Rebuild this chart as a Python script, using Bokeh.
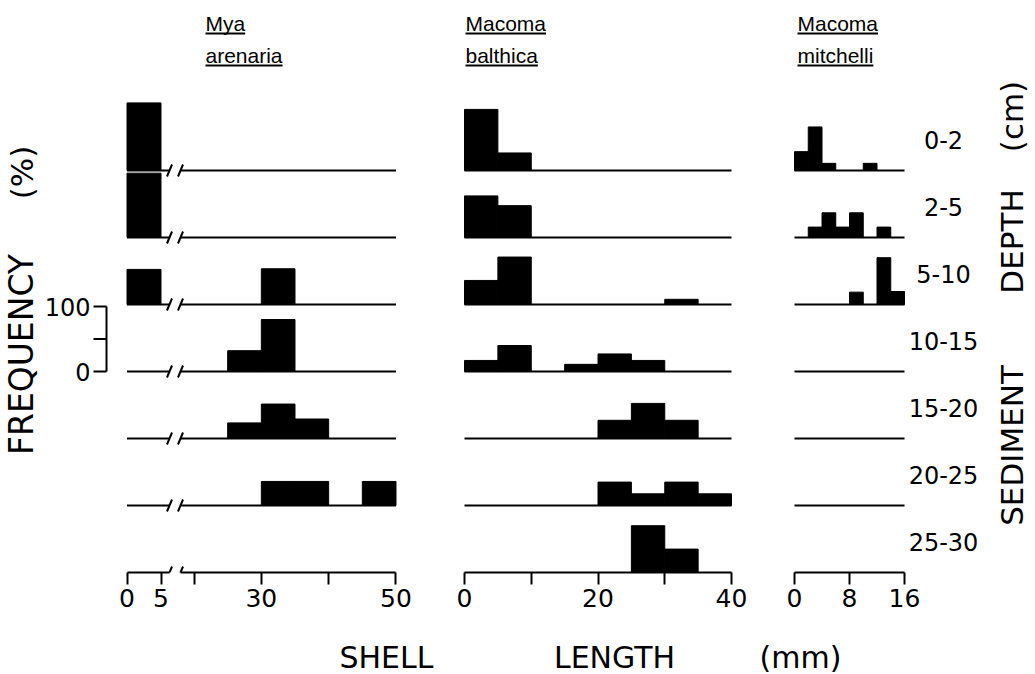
import math
from bokeh.plotting import figure
from bokeh.layouts import row, column
from bokeh.models import Range1d, LinearAxis, FixedTicker, Label, ColumnDataSource
from bokeh.embed import file_html
from bokeh.resources import INLINE

# ---------------- data (frequency, % ; shell-length classes in mm) ----------------
DEPTHS = ["0-2", "2-5", "5-10", "10-15", "15-20", "20-25", "25-30"]

MYA_BINS = [0, 20, 25, 30, 35, 40, 45]          # left edges, 5 mm classes
MYA_WIDTH = 5
MYA_0_2 = [104, 0, 0, 0, 0, 0, 0]
MYA_2_5 = [99, 0, 0, 0, 0, 0, 0]
MYA_5_10 = [54, 0, 0, 55, 0, 0, 0]
MYA_10_15 = [0, 0, 32, 80, 0, 0, 0]
MYA_15_20 = [0, 0, 24, 53, 30, 0, 0]
MYA_20_25 = [0, 0, 0, 37, 37, 0, 37]
MYA_25_30 = [0, 0, 0, 0, 0, 0, 0]
MYA = [MYA_0_2, MYA_2_5, MYA_5_10, MYA_10_15, MYA_15_20, MYA_20_25, MYA_25_30]

BAL_BINS = [0, 5, 10, 15, 20, 25, 30, 35]
BAL_WIDTH = 5
BAL_0_2 = [94, 27, 0, 0, 0, 0, 0, 0]
BAL_2_5 = [64, 49, 0, 0, 0, 0, 0, 0]
BAL_5_10 = [37, 73, 0, 0, 0, 0, 8, 0]
BAL_10_15 = [17, 40, 0, 11, 27, 17, 0, 0]
BAL_15_20 = [0, 0, 0, 0, 28, 54, 28, 0]
BAL_20_25 = [0, 0, 0, 0, 36, 18, 36, 18]
BAL_25_30 = [0, 0, 0, 0, 0, 72, 36, 0]
BAL = [BAL_0_2, BAL_2_5, BAL_5_10, BAL_10_15, BAL_15_20, BAL_20_25, BAL_25_30]

MIT_BINS = [0, 2, 4, 6, 8, 10, 12, 14]
MIT_WIDTH = 2
MIT_0_2 = [29, 67, 11, 0, 0, 11, 0, 0]
MIT_2_5 = [0, 16, 38, 16, 38, 0, 16, 0]
MIT_5_10 = [0, 0, 0, 0, 19, 0, 72, 20]
MIT_10_15 = [0, 0, 0, 0, 0, 0, 0, 0]
MIT_15_20 = [0, 0, 0, 0, 0, 0, 0, 0]
MIT_20_25 = [0, 0, 0, 0, 0, 0, 0, 0]
MIT_25_30 = [0, 0, 0, 0, 0, 0, 0, 0]
MIT = [MIT_0_2, MIT_2_5, MIT_5_10, MIT_10_15, MIT_15_20, MIT_20_25, MIT_25_30]

MYA_TICKS = [0, 5, 20, 30, 40, 50]
MYA_TICK_LABELS = ["0", "5", "", "30", "", "50"]
BAL_TICKS = [0, 10, 20, 30, 40]
BAL_TICK_LABELS = ["0", "", "20", "", "40"]
MIT_TICKS = [0, 8, 16]
MIT_TICK_LABELS = ["0", "8", "16"]
SCALE_TICKS = [0, 50, 100]
SCALE_LABELS = ["0", "", "100"]

TITLES = [("Mya", "arenaria"), ("Macoma", "balthica"), ("Macoma", "mitchelli")]
Y_TITLE = ["FREQUENCY", "(%)"]
DEPTH_TITLE = ["SEDIMENT", "DEPTH", "(cm)"]
X_TITLE = ["SHELL", "LENGTH", "(mm)"]

# ---------------- layout (reference pixel positions) ----------------
TOTAL_W, TOTAL_H = 1035, 674
TOP_H = 620                 # height of the panel row
AXIS_Y = 572                # pixel row of the bottom (25-30 cm) baseline / x axes
PX_PER_PCT = 0.65           # 100 % = 65 px (scale bracket)
ROW_PX = 67
NROW = len(DEPTHS)
FONT = "DejaVu Sans"
TFONT = "Liberation Sans"
TSIZE = 21
# Arial/Liberation Sans advance widths (per 1000 em) for the title letters
AW = dict(M=833, y=500, a=556, r=333, e=556, n=556, i=222, c=500, o=556,
          m=833, b=556, l=222, t=278, h=556)


def ydat(py):
    return (AXIS_Y - py) / PX_PER_PCT


def base(k):
    return (NROW - 1 - k) * ROW_PX / PX_PER_PCT


SPEC_A1 = dict(left=0, right=175, px0=126.5, v0=0, ppu=6.8)
SPEC_A2 = dict(left=175, right=445, px0=193.5, v0=20, ppu=6.733)
SPEC_B = dict(left=445, right=765, px0=464, v0=0, ppu=6.675)
SPEC_C = dict(left=765, right=1035, px0=794, v0=0, ppu=6.875)


def xdat(spec, px):
    return spec["v0"] + (px - spec["px0"]) / spec["ppu"]


def make_panel(spec):
    xr = Range1d(xdat(spec, spec["left"]), xdat(spec, spec["right"]))
    p = figure(width=spec["right"] - spec["left"], height=TOP_H,
               x_range=xr, y_range=Range1d(0, ydat(0)),
               x_axis_type=None, y_axis_type=None,
               output_backend="svg", toolbar_location=None,
               min_border_left=0, min_border_right=0, min_border_top=0,
               min_border_bottom=TOP_H - AXIS_Y, outline_line_color=None,
               background_fill_color="white", border_fill_color="white")
    return p


def add_axis(p, ticks, labels, bounds):
    major = [t for t, l in zip(ticks, labels) if l]
    minor = [t for t, l in zip(ticks, labels) if not l]
    ax = LinearAxis(ticker=FixedTicker(ticks=major, minor_ticks=minor), bounds=bounds,
                    axis_line_width=2, axis_line_color="black",
                    major_tick_line_width=2, major_tick_out=12, major_tick_in=0,
                    minor_tick_line_width=2, minor_tick_out=12, minor_tick_in=0,
                    major_label_text_font=FONT, major_label_text_font_size="25px",
                    major_label_text_color="black", major_label_standoff=4)
    p.add_layout(ax, "below")


def add_label(p, x, y, text, size, font=FONT, align="center", baseline="middle", angle=0.0):
    p.add_layout(Label(x=x, y=y, text=text, text_font=font, text_font_size=f"{size}px",
                       text_align=align, text_baseline=baseline, angle=angle,
                       text_color="black"))


def draw_bars(p, bins, width, rows, keep):
    L, R, B, T = [], [], [], []
    for k, vals in enumerate(rows):
        for b, v in zip(bins, vals):
            if v > 0 and keep(b):
                L.append(b); R.append(b + width)
                B.append(base(k)); T.append(base(k) + v)
    src = ColumnDataSource(dict(left=L, right=R, bottom=B, top=T))
    p.quad(left="left", right="right", bottom="bottom", top="top", source=src,
           fill_color="black", line_color="black", line_width=1)


def draw_baselines(p, x0, x1):
    ys = [base(k) for k in range(NROW - 1)]
    p.segment(x0=[x0] * len(ys), y0=ys, x1=[x1] * len(ys), y1=ys,
              line_color="black", line_width=2)


def draw_breaks(p, spec, xb):
    dx = 2.5 / spec["ppu"]
    dy = 6 / PX_PER_PCT
    ys = [base(k) for k in range(NROW)]
    p.segment(x0=[xb - dx] * NROW, y0=[y - dy for y in ys],
              x1=[xb + dx] * NROW, y1=[y + dy for y in ys],
              line_color="black", line_width=2)


def draw_title(p, spec, px, lines):
    # text placed so that its baseline sits just above the underline
    for txt, pyt, pyu in zip(lines, [23, 55], [33, 65]):
        add_label(p, xdat(spec, px), ydat(pyt), txt, TSIZE, font=TFONT,
                  align="left", baseline="alphabetic")
        w = sum(AW[ch] for ch in txt) / 1000 * TSIZE
        p.segment(x0=[xdat(spec, px)], y0=[ydat(pyu)], x1=[xdat(spec, px + w)], y1=[ydat(pyu)],
                  line_color="black", line_width=2)


# ---------- panel A1 : Mya arenaria 0-5 mm + frequency scale ----------
pA1 = make_panel(SPEC_A1)
lo_end = xdat(SPEC_A1, 169)
draw_baselines(pA1, 0, lo_end)
draw_bars(pA1, MYA_BINS, MYA_WIDTH, MYA, lambda b: b < 10)
draw_breaks(pA1, SPEC_A1, lo_end)
add_axis(pA1, [t for t in MYA_TICKS if t < 10],
         [l for t, l in zip(MYA_TICKS, MYA_TICK_LABELS) if t < 10], (0, lo_end))

# frequency scale bracket
bx = xdat(SPEC_A1, 106)
bx_l = xdat(SPEC_A1, 93)
b3 = base(3)
pA1.segment(x0=[bx], y0=[b3 + SCALE_TICKS[0]], x1=[bx], y1=[b3 + SCALE_TICKS[-1]],
            line_color="black", line_width=2)
pA1.segment(x0=[bx_l] * len(SCALE_TICKS), y0=[b3 + t for t in SCALE_TICKS],
            x1=[bx] * len(SCALE_TICKS), y1=[b3 + t for t in SCALE_TICKS],
            line_color="black", line_width=2)
for t, l in zip(SCALE_TICKS, SCALE_LABELS):
    if l:
        add_label(pA1, xdat(SPEC_A1, 90), b3 + t, l, 24, align="right")

add_label(pA1, xdat(SPEC_A1, 21), ydat(354), Y_TITLE[0], 33, angle=math.pi / 2)
add_label(pA1, xdat(SPEC_A1, 21), ydat(172), Y_TITLE[1], 31, angle=math.pi / 2)

# ---------- panel A2 : Mya arenaria 20-50 mm ----------
pA2 = make_panel(SPEC_A2)
hi_start = xdat(SPEC_A2, 180)
draw_baselines(pA2, hi_start, 50)
draw_bars(pA2, MYA_BINS, MYA_WIDTH, MYA, lambda b: b >= 10)
draw_breaks(pA2, SPEC_A2, hi_start)
add_axis(pA2, [t for t in MYA_TICKS if t >= 10],
         [l for t, l in zip(MYA_TICKS, MYA_TICK_LABELS) if t >= 10], (hi_start, 50))

# ---------- panel B : Macoma balthica ----------
pB = make_panel(SPEC_B)
draw_baselines(pB, 0, 40)
draw_bars(pB, BAL_BINS, BAL_WIDTH, BAL, lambda b: True)
add_axis(pB, BAL_TICKS, BAL_TICK_LABELS, (0, 40))

# ---------- panel C : Macoma mitchelli ----------
pC = make_panel(SPEC_C)
draw_baselines(pC, 0, 16)
draw_bars(pC, MIT_BINS, MIT_WIDTH, MIT, lambda b: True)
add_axis(pC, MIT_TICKS, MIT_TICK_LABELS, (0, 16))

for k, d in enumerate(DEPTHS):
    add_label(pC, xdat(SPEC_C, 943), base(k) + 31 / PX_PER_PCT, d, 24)

for txt, py in zip(DEPTH_TITLE, [445, 241, 116]):
    add_label(pC, xdat(SPEC_C, 1011), ydat(py), txt, 31, angle=math.pi / 2)

# ---------- species titles ----------
draw_title(pA2, SPEC_A2, 205, TITLES[0])
draw_title(pB, SPEC_B, 465, TITLES[1])
draw_title(pC, SPEC_C, 797, TITLES[2])

# ---------- shell length title (strip below the panels) ----------
pX = figure(width=TOTAL_W, height=TOTAL_H - TOP_H, x_range=Range1d(0, TOTAL_W),
            y_range=Range1d(TOTAL_H, TOP_H), x_axis_type=None, y_axis_type=None,
            output_backend="svg", toolbar_location=None, min_border=0,
            outline_line_color=None, background_fill_color="white",
            border_fill_color="white")
for txt, px in zip(X_TITLE, [386, 614, 800]):
    add_label(pX, px, 657, txt, 30)

layout = column(row(pA1, pA2, pB, pC), pX)
open("out.html", "w").write(file_html(layout, INLINE))
